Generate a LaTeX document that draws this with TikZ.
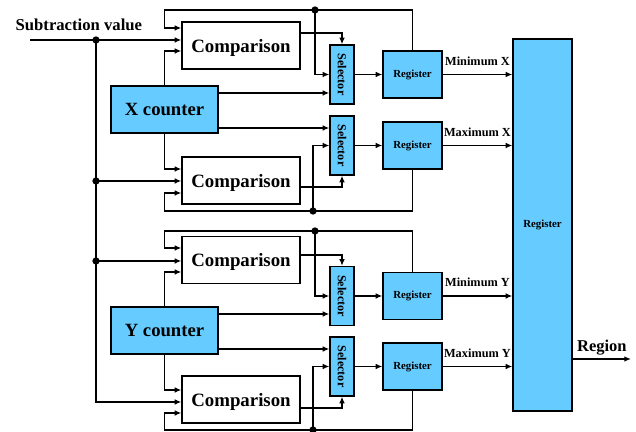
\documentclass[tikz,border=0pt]{standalone}
\usepackage{fontspec}
\usepackage{graphicx}
\setmainfont{Liberation Serif}
\usetikzlibrary{arrows.meta,calc}

\definecolor{blockblue}{HTML}{66CCFF}

\tikzset{
  wire/.style={line width=0.8pt, -{Latex[length=4pt,width=3.4pt]}},
  comp/.style={draw, fill=white, minimum width=70.8pt, minimum height=28.2pt, inner sep=0pt, text depth=0pt, font=\fontsize{11.3}{13}\selectfont\bfseries},
  counter/.style={draw, fill=blockblue, minimum width=64.2pt, minimum height=28.2pt, inner sep=0pt, font=\fontsize{11.2}{13}\selectfont\bfseries},
  sel/.style={draw, fill=blockblue, minimum width=14.4pt, minimum height=35.4pt, inner sep=0pt, font=\fontsize{7.3}{8}\selectfont\bfseries},
  reg/.style={draw, fill=blockblue, minimum width=35.4pt, minimum height=28.2pt, inner sep=0pt, font=\fontsize{6.5}{8}\selectfont\bfseries},
  lbl/.style={inner sep=0pt, font=\fontsize{7.4}{9}\selectfont\bfseries}
}

\begin{document}
\begin{tikzpicture}[x=0.6pt, y=-0.6pt, line width=0.8pt]

\useasboundingbox (0,0) rectangle (636,432);

% blocks
\node[comp] (compXa) at (241,45.5) {Comparison};
\node[comp] (compXb) at (241,180.5) {Comparison};
\node[comp] (compYa) at (241,260) {Comparison};
\node[comp] (compYb) at (241,399.5) {Comparison};
\node[counter] (cntX) at (164.5,109.5) {X counter};
\node[counter] (cntY) at (164.5,330.5) {Y counter};
\node[sel] (selXa) at (342,74.5) {\rotatebox{-90}{Selector}};
\node[sel] (selXb) at (342,145.5) {\rotatebox{-90}{Selector}};
\node[sel] (selYa) at (342,296) {\rotatebox{-90}{Selector}};
\node[sel] (selYb) at (342,366.5) {\rotatebox{-90}{Selector}};
\node[reg] (regXa) at (412.5,74.5) {Register};
\node[reg] (regXb) at (412.5,145.5) {Register};
\node[reg] (regYa) at (412.5,296) {Register};
\node[reg] (regYb) at (412.5,366.5) {Register};
\node[reg, minimum height=223.2pt] (regAll) at (542.5,225) {Register};

% subtraction value fan-out
\node[anchor=base west, inner sep=0pt, font=\fontsize{10}{12}\selectfont\bfseries] (sublbl) at (15,31) {Subtraction value};
\coordinate (in) at (30,40);
\coordinate (sa) at (96,40);
\coordinate (sb) at (96,181);
\coordinate (sc) at (96,261);
\draw[wire] (in) -- (in -| compXa.west);
\draw[wire] (sa) |- ($(compYb.west)+(0,2.5)$);
\draw[wire] (sb) -- (sb -| compXb.west);
\draw[wire] (sc) -- (sc -| compYa.west);
\foreach \p in {sa,sb,sc} \fill (\p) circle (2.2pt);

% counters into comparators and selectors
\draw[wire] (cntX.north) |- ($(compXa.west)+(0,5.5)$);
\draw[wire] (cntX.south) |- ($(compXb.west)+(0,-11.5)$);
\draw[wire] (cntY.north) |- ($(compYa.west)+(0,12)$);
\draw[wire] (cntY.south) |- ($(compYb.west)+(0,-9.5)$);
\draw[wire] ($(cntX.east)+(0,-16.5)$) -- ($(selXa.west)+(0,18.5)$);
\draw[wire] ($(cntX.east)+(0,18.5)$) -- ($(selXb.west)+(0,-17.5)$);
\draw[wire] ($(cntY.east)+(0,-16.5)$) -- ($(selYa.west)+(0,18)$);
\draw[wire] ($(cntY.east)+(0,18.5)$) -- ($(selYb.west)+(0,-17.5)$);

% comparator results to selectors
\draw[wire] ($(compXa.east)+(0,-12.5)$) -| (selXa.north);
\draw[wire] ($(compXb.east)+(0,6.5)$) -| (selXb.south);
\draw[wire] ($(compYa.east)+(0,-5)$) -| (selYa.north);
\draw[wire] ($(compYb.east)+(0,8.5)$) -| (selYb.south);

% register feedback
\coordinate (fXa) at (315,10);
\coordinate (fXb) at (313,211);
\coordinate (fYa) at (315,231);
\coordinate (fYb) at (313,430);
\draw[wire] (regXa.north) |- (fXa -| cntX) |- ($(compXa.west)+(0,-17.5)$);
\draw[wire] (regXb.south) |- (fXb -| cntX) |- ($(compXb.west)+(0,12.5)$);
\draw[wire] (regYa.north) |- (fYa -| cntY) |- ($(compYa.west)+(0,-12)$);
\draw[wire] (regYb.south) |- (fYb -| cntY) |- ($(compYb.west)+(0,13.5)$);
\draw[wire] (fXa) |- (selXa.west);
\draw[wire] (fXb) |- (selXb.west);
\draw[wire] (fYa) |- (selYa.west);
\draw[wire] (fYb) |- (selYb.west);
\foreach \p in {fXa,fXb,fYa,fYb} \fill (\p) circle (2.2pt);

% selectors to registers
\draw[wire] (selXa.east) -- (regXa.west);
\draw[wire] (selXb.east) -- (regXb.west);
\draw[wire] (selYa.east) -- (regYa.west);
\draw[wire] (selYb.east) -- (regYb.west);

% bounds into the output register
\draw[wire] (regXa.east) -- (regXa.east -| regAll.west) node[lbl, midway, above=5pt] (lminx) {Minimum X};
\draw[wire] (regXb.east) -- (regXb.east -| regAll.west) node[lbl, midway, above=5pt] (lmaxx) {Maximum X};
\draw[wire] (regYa.east) -- (regYa.east -| regAll.west) node[lbl, midway, above=5pt] (lminy) {Minimum Y};
\draw[wire] (regYb.east) -- (regYb.east -| regAll.west) node[lbl, midway, above=5pt] (lmaxy) {Maximum Y};

\coordinate (out) at (631,359);
\draw[wire] (out -| regAll.east) -- (out) node[midway, above=2pt, inner sep=0pt, font=\fontsize{9.9}{12}\selectfont\bfseries] (lregion) {Region};

\end{tikzpicture}
\end{document}
